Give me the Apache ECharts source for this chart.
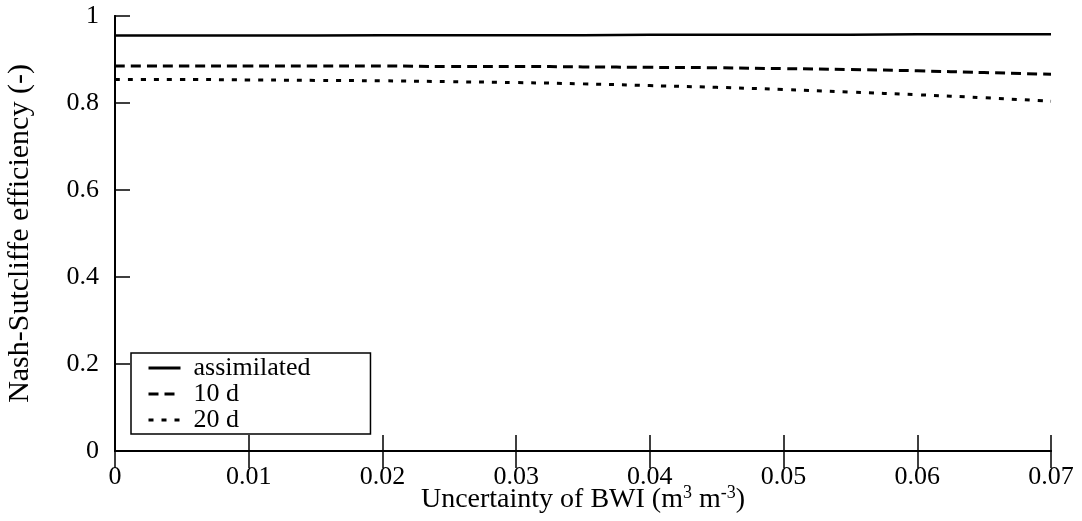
<!DOCTYPE html>
<html>
<head>
<meta charset="utf-8">
<script src="https://cdn.jsdelivr.net/npm/echarts@6/dist/echarts.min.js"></script>
<style>
html,body{margin:0;padding:0;background:#fff;}
#c{width:1082px;height:521px;}
</style>
</head>
<body>
<div id="c"></div>
<script>
var xValues = [0, 0.005, 0.01, 0.015, 0.02, 0.025, 0.03, 0.035, 0.04, 0.045, 0.05, 0.055, 0.06, 0.065, 0.07];
var assimilated = [0.955, 0.955, 0.955, 0.955, 0.956, 0.956, 0.956, 0.956, 0.957, 0.957, 0.957, 0.957, 0.958, 0.958, 0.958];
var d10 = [0.885, 0.885, 0.885, 0.885, 0.885, 0.884, 0.884, 0.883, 0.882, 0.881, 0.879, 0.877, 0.874, 0.870, 0.866];
var d20 = [0.854, 0.854, 0.853, 0.852, 0.851, 0.849, 0.847, 0.844, 0.840, 0.836, 0.831, 0.825, 0.819, 0.812, 0.804];
var seriesNames = ['assimilated', '10 d', '20 d'];
var xTitle = 'Uncertainty of BWI (m{sup|3} m{sup|-3})';
var yTitle = 'Nash-Sutcliffe efficiency (-)';

function pairs(ys) { return xValues.map(function (x, i) { return [x, ys[i]]; }); }

var FONT = 'Liberation Serif';
var FS = 26;
var chart = echarts.init(document.getElementById('c'));
chart.setOption({
  animation: false,
  backgroundColor: '#fff',
  textStyle: { fontFamily: FONT, color: '#000' },
  grid: { left: 115, right: 31, top: 16, bottom: 70, containLabel: false, outerBoundsMode: 'none' },
  xAxis: [{
    type: 'value', min: 0, max: 0.07, interval: 0.01, position: 'bottom',
    axisLine: { show: true, lineStyle: { color: '#000', width: 2 } },
    axisTick: { show: true, inside: true, length: 16, lineStyle: { color: '#000', width: 1.5 } },
    axisLabel: { color: '#000', fontFamily: FONT, fontSize: FS, margin: 13 },
    splitLine: { show: false },
    name: xTitle, nameLocation: 'middle', nameGap: 33, nameMoveOverlap: false,
    nameTextStyle: {
      color: '#000', fontFamily: FONT, fontSize: 28,
      rich: { sup: { fontSize: 18, fontFamily: FONT, color: '#000', padding: [0, 0, 14, 0] } }
    }
  }, {
    type: 'value', min: 0, max: 0.07, interval: 0.01, position: 'top',
    axisLine: { show: true, lineStyle: { color: '#000', width: 2 } },
    axisTick: { show: true, inside: true, length: 17, lineStyle: { color: '#000', width: 1.5 } },
    axisLabel: { show: false },
    splitLine: { show: false }
  }],
  yAxis: [{
    type: 'value', min: 0, max: 1, interval: 0.2, position: 'left',
    axisLine: { show: true, lineStyle: { color: '#000', width: 2 } },
    axisTick: { show: true, inside: true, length: 15, lineStyle: { color: '#000', width: 1.5 } },
    axisLabel: { color: '#000', fontFamily: FONT, fontSize: FS, margin: 16 },
    splitLine: { show: false },
    name: yTitle, nameLocation: 'middle', nameGap: 80, nameRotate: 90, nameMoveOverlap: false,
    nameTextStyle: { color: '#000', fontFamily: FONT, fontSize: 30 }
  }, {
    type: 'value', min: 0, max: 1, interval: 0.2, position: 'right',
    axisLine: { show: true, lineStyle: { color: '#000', width: 2 } },
    axisTick: { show: false },
    axisLabel: { show: false },
    splitLine: { show: false }
  }],
  legend: {
    orient: 'vertical', left: 131, top: 353,
    data: seriesNames,
    backgroundColor: '#fff', borderColor: '#000', borderWidth: 1.5,
    padding: [2, 60, 1, 16],
    itemWidth: 32, itemHeight: 14, itemGap: 0,
    itemStyle: { color: 'rgba(0,0,0,0)', borderWidth: 0, opacity: 0 },
    lineStyle: { width: 3 },
    textStyle: { color: '#000', fontFamily: FONT, fontSize: 26, lineHeight: 25, padding: [0, 0, 0, 8] }
  },
  series: [{
    name: seriesNames[0], type: 'line', data: pairs(assimilated), showSymbol: false, symbol: 'none',
    lineStyle: { color: '#000', width: 2.5, type: 'solid' }, itemStyle: { color: '#000' }
  }, {
    name: seriesNames[1], type: 'line', data: pairs(d10), showSymbol: false, symbol: 'none', smooth: true,
    lineStyle: { color: '#000', width: 3, type: [10, 6] }, itemStyle: { color: '#000' }
  }, {
    name: seriesNames[2], type: 'line', data: pairs(d20), showSymbol: false, symbol: 'none', smooth: true,
    lineStyle: { color: '#000', width: 3, type: [5, 8] }, itemStyle: { color: '#000' }
  }]
});
</script>
</body>
</html>
